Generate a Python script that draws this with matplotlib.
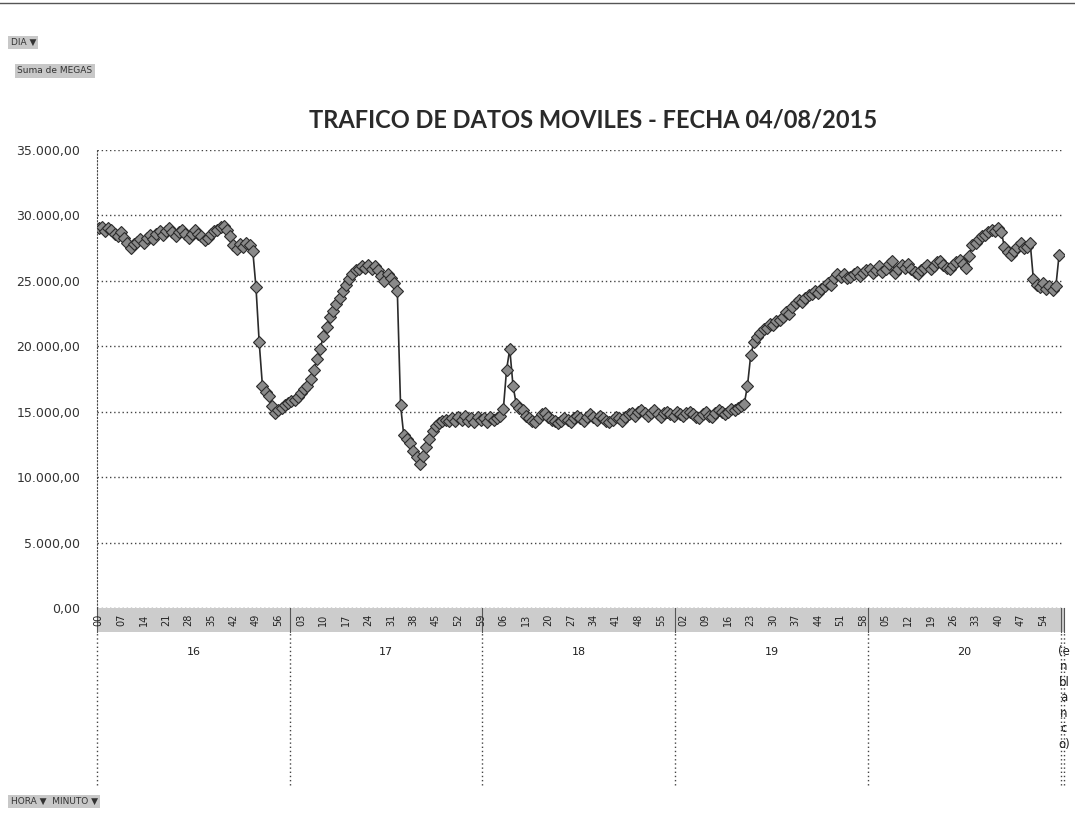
import numpy as np
import matplotlib.pyplot as plt
from matplotlib.transforms import blended_transform_factory

# pivot chart: Suma de MEGAS per HORA / MINUTO
hours = [16, 17, 18, 19, 20]
blank_label = "(e\nn\nbl\na\nn\nc\no)"

megas_16 = [29000, 29100, 28800, 29000, 28900, 28600, 28400, 28700, 28300, 27900,
            27500, 27800, 28000, 28200, 27900, 28300, 28500, 28200, 28600, 28800,
            28500, 28800, 29000, 28700, 28400, 28700, 28900, 28600, 28300, 28600,
            28900, 28600, 28400, 28100, 28300, 28600, 28800, 28900, 29100, 29200,
            28900, 28400, 27700, 27400, 27800, 27600, 27900, 27700, 27300, 24500,
            20300, 17000, 16500, 16200, 15400, 14900, 15100, 15300, 15500, 15700]
megas_17 = [15800, 15900, 16100, 16400, 16700, 17000, 17500, 18200, 19000, 19800,
            20800, 21500, 22200, 22700, 23200, 23700, 24200, 24700, 25100, 25500,
            25800, 25900, 26100, 26000, 26200, 25900, 26100, 25800, 25400, 25000,
            25500, 25200, 24800, 24200, 15500, 13200, 12900, 12600, 12000, 11500,
            11000, 11600, 12300, 12900, 13500, 13900, 14100, 14300, 14400, 14300,
            14500, 14300, 14600, 14400, 14700, 14300, 14500, 14200, 14600, 14400]
megas_18 = [14500, 14200, 14600, 14400, 14500, 14700, 15200, 18200, 19800, 17000,
            15600, 15300, 15100, 14700, 14500, 14300, 14200, 14500, 14800, 14900,
            14600, 14400, 14300, 14100, 14300, 14500, 14400, 14200, 14500, 14700,
            14500, 14300, 14600, 14800, 14600, 14400, 14700, 14500, 14300, 14200,
            14400, 14600, 14500, 14300, 14600, 14800, 14900, 14700, 15000, 15100,
            14900, 14700, 14900, 15100, 14800, 14600, 14900, 15000, 14800, 14700]
megas_19 = [15000, 14800, 14700, 14900, 15000, 14800, 14600, 14500, 14800, 15000,
            14700, 14600, 14900, 15100, 15000, 14800, 15000, 15200, 15100, 15300,
            15400, 15600, 17000, 19300, 20300, 20700, 21000, 21300, 21400, 21700,
            21600, 21900, 22000, 22200, 22600, 22500, 23000, 23300, 23500, 23400,
            23700, 23900, 24000, 24200, 24100, 24400, 24600, 24800, 24700, 25200,
            25500, 25300, 25500, 25200, 25300, 25500, 25700, 25400, 25600, 25800]
megas_20 = [25900, 25600, 25800, 26100, 25700, 25900, 26300, 26500, 25600, 25900,
            26200, 26000, 26300, 25900, 25700, 25500, 25800, 26000, 26200, 25900,
            26100, 26400, 26500, 26200, 26000, 25900, 26200, 26400, 26600, 26300,
            26000, 26900, 27700, 27900, 28200, 28400, 28500, 28700, 28900, 28800,
            29000, 28700, 27600, 27200, 27000, 27300, 27600, 27900, 27500, 27600,
            27900, 25100, 24700, 24500, 24800, 24400, 24600, 24300, 24600, 27000]

megas = megas_16 + megas_17 + megas_18 + megas_19 + megas_20 + [np.nan]
n = len(megas)
x = np.arange(n)
minutes = ['%02d' % (i % 60) for i in range(n - 1)] + ['']

fig = plt.figure(figsize=(10.75, 8.14), dpi=100)
fig.patch.set_facecolor('white')
ax = fig.add_axes([0.0902, 0.2531, 0.8995, 0.5627])

ax.plot(x, megas, color='#2b2b2b', lw=1.2, marker='D', ms=6,
        mfc='#8a8a8a', mec='#2b2b2b', mew=0.8, zorder=3)

ax.set_xlim(-0.5, n - 0.5)
ax.set_ylim(0, 35000)
yt = np.arange(0, 35001, 5000)
ax.set_yticks(yt)
ax.set_yticklabels([('{:,.2f}'.format(v)).replace(',', 'X').replace('.', ',').replace('X', '.')
                    for v in yt], fontsize=9, color='#333333')
ax.tick_params(axis='y', length=0, pad=12)
ax.set_xticks([])
ax.yaxis.grid(True, ls=(0, (1, 2)), color='#444444', lw=1)
for s in ['top', 'right', 'bottom']:
    ax.spines[s].set_visible(False)
ax.spines['left'].set_linestyle((0, (1, 2)))
ax.spines['left'].set_color('#444444')

tr = blended_transform_factory(ax.transData, ax.transAxes)
band = -24 / 458.0
bottom = -177 / 458.0

# minute label band
ax.add_patch(plt.Rectangle((-0.5, band), n, -band, transform=tr, clip_on=False,
                           facecolor='#cccccc', edgecolor='none', zorder=1))
for i in range(0, n - 1, 7):
    ax.text(i, band / 2, minutes[i], transform=tr, rotation=90, ha='center',
            va='center', fontsize=7, color='#222222', clip_on=False)

# hour labels and separators
bounds = [-0.5] + [60 * (k + 1) - 0.5 for k in range(len(hours))] + [n - 0.5]
for b in bounds:
    ax.plot([b, b], [band, 0], transform=tr, color='#555555', lw=0.8, clip_on=False)
    ax.plot([b, b], [bottom, band], transform=tr, color='#444444', lw=1,
            ls=(0, (1, 2)), clip_on=False)
for k, h in enumerate(hours):
    ax.text(60 * k + 29.5, -0.096, str(h), transform=tr, ha='center', va='center',
            fontsize=8, color='#222222', clip_on=False)
ax.text(n - 0.5, -0.08, blank_label, transform=tr, ha='center', va='top',
        fontsize=8.5, color='#222222', linespacing=1.25, clip_on=False)

fig.text(0.552, 0.853, 'TRAFICO DE DATOS MOVILES - FECHA 04/08/2015',
         ha='center', va='center', fontsize=17, fontweight='bold',
         family='Lato', color='#2a2a2a')

btn = dict(facecolor='#c8c8c8', edgecolor='none', boxstyle='square,pad=0.25')
fig.text(0.010, 0.948, 'DIA \u25bc', fontsize=6.5, color='#333333', bbox=btn, va='center')
fig.text(0.016, 0.913, 'Suma de MEGAS', fontsize=6.5, color='#333333', bbox=btn, va='center')
fig.text(0.010, 0.010, 'HORA \u25bc  MINUTO \u25bc', fontsize=6.5, color='#333333',
         bbox=btn, va='bottom')

fig.add_artist(plt.Line2D([0, 1], [0.996, 0.996], color='#555555', lw=1))

fig.savefig('out.png', dpi=100)
